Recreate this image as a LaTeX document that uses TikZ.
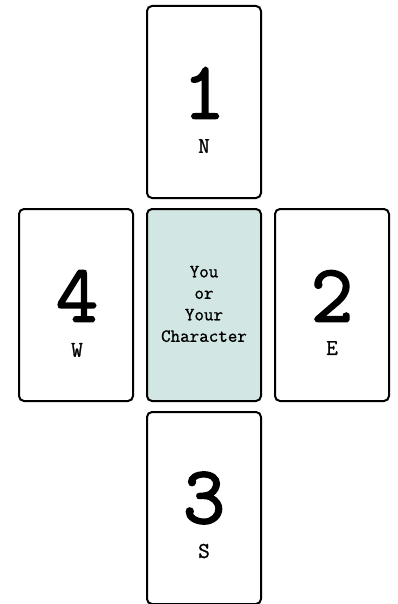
\documentclass[tikz,border=0pt]{standalone}
\usepackage{fontspec}
\newfontfamily\digitfont[FakeBold=2]{Latin Modern Mono}
\newfontfamily\typefont[FakeBold=1.1]{Latin Modern Mono}
\definecolor{cardteal}{RGB}{210,230,227}
\begin{document}
\begin{tikzpicture}[x=1pt,y=-1pt,
  card/.style={draw=black,line width=2pt,rounded corners=5pt,minimum width=114pt,minimum height=192pt,inner sep=0pt,fill=white},
  digit/.style={font=\fontsize{82}{82}\selectfont\digitfont,inner sep=0pt},
  dirl/.style={font=\fontsize{22.5}{22.5}\selectfont\typefont,inner sep=0pt},
  centretext/.style={font=\fontsize{18.5}{21.5}\selectfont\typefont,align=center,inner sep=0pt}]
\useasboundingbox (0,0) rectangle (398,604);
\node[card] (north) at (204,102) {};
\node[card,fill=cardteal] (centre) at (204,305) {};
\node[card] (south) at (204,508) {};
\node[card] (west) at (76,305) {};
\node[card] (east) at (332,305) {};
\node[digit] (n1) at (204,93) {1};
\node[dirl] (nl) at (204,146) {N};
\node[digit] (w4) at (77,296) {4};
\node[dirl] (wl) at (77,350) {W};
\node[digit] (e2) at (332,296) {2};
\node[dirl] (el) at (332,348) {E};
\node[digit] (s3) at (204,498) {3};
\node[dirl] (sl) at (204,551) {S};
\node[centretext] (ct) at (204,304) {You\\or\\Your\\Character};
\end{tikzpicture}
\end{document}
